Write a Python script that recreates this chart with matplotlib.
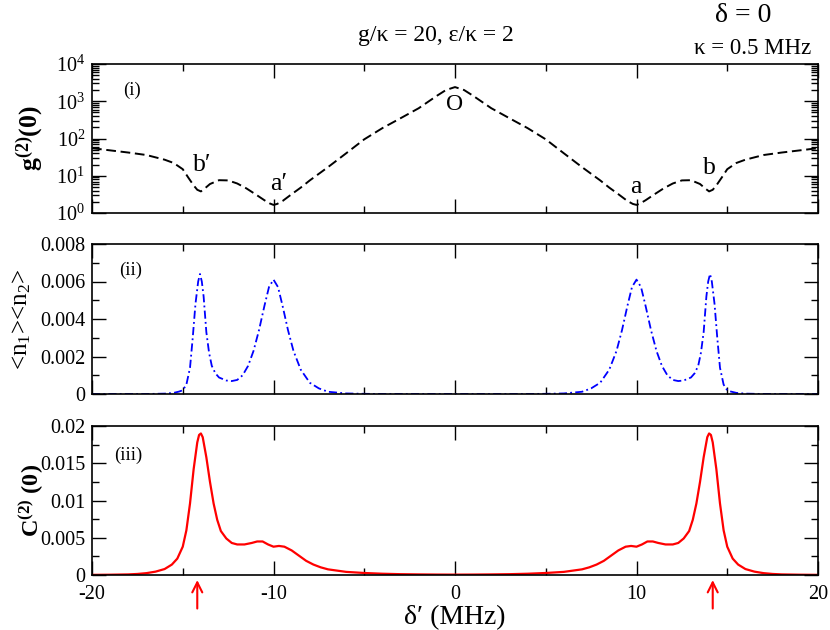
import numpy as np
import matplotlib
matplotlib.use("Agg")
import matplotlib.pyplot as plt
from matplotlib.ticker import MultipleLocator, LogLocator, NullFormatter, FixedLocator

plt.rcParams['font.family'] = ['Liberation Serif', 'DejaVu Serif']
plt.rcParams['mathtext.fontset'] = 'custom'
plt.rcParams['mathtext.rm'] = 'Liberation Serif'
plt.rcParams['mathtext.it'] = 'Liberation Serif:italic'
plt.rcParams['mathtext.bf'] = 'Liberation Serif:bold'

# ---------------- data ----------------
# panel (i): g2(0), log scale
g2_x = [-20, -19, -18, -17, -16, -15.5, -15, -14.7, -14.4, -14.2, -14.0, -13.8, -13.5, -13.0,
        -12.5, -12.0, -11.5, -11.0, -10.5, -10.2, -10.0, -9.8, -9.5, -9.0, -8.5, -8.0, -7.0,
        -6.0, -5.0, -4.0, -3.0, -2.0, -1.0, -0.5, 0,
        0.5, 1.0, 2.0, 3.0, 4.0, 5.0, 6.0, 7.0, 8.0, 8.5, 9.0, 9.5, 9.8, 10.0, 10.2, 10.5,
        11.0, 11.5, 12.0, 12.5, 13.0, 13.5, 13.8, 14.0, 14.2, 14.4, 14.7, 15, 15.5, 16, 17,
        18, 19, 20]
g2_y = [55, 48, 42, 36, 27, 22, 15, 9, 5.5, 4.2, 3.8, 4.5, 6.0, 7.6,
        7.5, 6.2, 4.6, 3.2, 2.2, 1.8, 1.65, 1.75, 2.1, 3.2, 4.8, 7.5, 17,
        40, 95, 190, 350, 650, 1400, 2000, 2400,
        2000, 1400, 650, 350, 190, 95, 40, 17, 7.5, 4.8, 3.2, 2.1, 1.75, 1.65, 1.8, 2.2,
        3.2, 4.6, 6.2, 7.5, 7.6, 6.0, 4.5, 3.8, 4.2, 5.5, 9, 15, 22, 27, 36,
        42, 48, 55]

# panel (ii): <n1><n2>
n_x = [-20, -17, -16, -15.5, -15.2, -15.0, -14.8, -14.6, -14.45, -14.3, -14.15, -14.05,
       -13.95, -13.85, -13.7, -13.55, -13.4, -13.2, -13.0, -12.6, -12.3, -12.0, -11.7,
       -11.4, -11.1, -10.8, -10.5, -10.25, -10.0, -9.75, -9.5, -9.2, -8.9, -8.5, -8.0,
       -7.5, -7.0, -6.0, -5.0, -4.0, 0,
       4.0, 5.0, 6.0, 7.0, 7.5, 8.0, 8.5, 8.9, 9.2, 9.5, 9.75, 10.0, 10.25, 10.5, 10.8,
       11.1, 11.4, 11.7, 12.0, 12.3, 12.6, 13.0, 13.2, 13.4, 13.55, 13.7, 13.85, 13.95,
       14.05, 14.15, 14.3, 14.45, 14.6, 14.8, 15.0, 15.2, 15.5, 16, 17, 20]
n_y = [0, 0, 0.00002, 0.00006, 0.00013, 0.0002, 0.0005, 0.0014, 0.0030, 0.0048, 0.0060, 0.0064,
       0.0060, 0.0052, 0.0033, 0.0022, 0.0015, 0.0011, 0.00088, 0.00072, 0.00069, 0.00075, 0.0010,
       0.0015, 0.0023, 0.0034, 0.0047, 0.0057, 0.0061, 0.0057, 0.0047, 0.0034, 0.0023, 0.0013, 0.0006,
       0.0003, 0.00012, 0.00003, 0.00001, 0, 0,
       0, 0.00001, 0.00003, 0.00012, 0.0003, 0.0006, 0.0013, 0.0023, 0.0034, 0.0047, 0.0057, 0.0061,
       0.0057, 0.0047, 0.0034, 0.0023, 0.0015, 0.0010, 0.00075, 0.00069, 0.00072, 0.00088, 0.0011,
       0.0015, 0.0022, 0.0033, 0.0052, 0.0060, 0.0064, 0.0060, 0.0048, 0.0030, 0.0014, 0.0005,
       0.0002, 0.00013, 0.00006, 0.00002, 0, 0]

# panel (iii): C2(0)
c_x = [-20, -19, -18, -17.5, -17, -16.5, -16, -15.6, -15.3, -15.0, -14.8, -14.6, -14.4, -14.2,
       -14.1, -14.0, -13.9, -13.7, -13.5, -13.3, -13.1, -12.9, -12.6, -12.3, -12.0, -11.6, -11.2,
       -10.9, -10.6, -10.3, -10.0, -9.7, -9.4, -9.0, -8.6, -8.2, -7.8, -7.4, -7.0, -6.0, -5.0,
       -4.0, -3.0, -2.0, -1.0, 0,
       1.0, 2.0, 3.0, 4.0, 5.0, 6.0, 7.0, 7.4, 7.8, 8.2, 8.6, 9.0, 9.4, 9.7, 10.0, 10.3, 10.6,
       10.9, 11.2, 11.6, 12.0, 12.3, 12.6, 12.9, 13.1, 13.3, 13.5, 13.7, 13.9, 14.0, 14.1, 14.2,
       14.4, 14.6, 14.8, 15.0, 15.3, 15.6, 16, 16.5, 17, 17.5, 18, 19, 20]
c_y = [0.00002, 0.00004, 0.00008, 0.00014, 0.00025, 0.00045, 0.0008, 0.0014, 0.0022, 0.0038,
       0.0060, 0.0096, 0.0142, 0.0178, 0.0188, 0.0190, 0.0185, 0.0158, 0.0125, 0.0096, 0.0074,
       0.0059, 0.0049, 0.0043, 0.0041, 0.0041, 0.0043, 0.0045, 0.0045, 0.0041, 0.0038, 0.0039,
       0.0038, 0.0033, 0.0026, 0.0019, 0.0014, 0.00103, 0.00076, 0.00042, 0.00027, 0.00017,
       0.00011, 0.00008, 0.00006, 0.00005,
       0.00006, 0.00008, 0.00011, 0.00017, 0.00027, 0.00042, 0.00076, 0.00103, 0.0014, 0.0019,
       0.0026, 0.0033, 0.0038, 0.0039, 0.0038, 0.0041, 0.0045, 0.0045, 0.0043, 0.0041, 0.0041,
       0.0043, 0.0049, 0.0059, 0.0074, 0.0096, 0.0125, 0.0158, 0.0185, 0.0190, 0.0188, 0.0178,
       0.0142, 0.0096, 0.0060, 0.0038, 0.0022, 0.0014, 0.0008, 0.00045, 0.00025, 0.00014,
       0.00008, 0.00004, 0.00002]

arrow_x = [-14.2, 14.2]
x_ticks = [-20, -10, 0, 10, 20]
x_tick_labels = ['-20', '-10', '0', '10', '20']

# ---------------- figure ----------------
fig = plt.figure(figsize=(8.3, 6.3), dpi=100)
L, W = 92 / 830, 726 / 830
ax1 = fig.add_axes([L, 1 - 213 / 630, W, 149 / 630])
ax2 = fig.add_axes([L, 1 - 394 / 630, W, 150 / 630])
ax3 = fig.add_axes([L, 1 - 575 / 630, W, 149 / 630])

for ax in (ax1, ax2, ax3):
    ax.set_xlim(-20, 20)
    ax.xaxis.set_major_locator(FixedLocator(x_ticks))
    ax.xaxis.set_minor_locator(MultipleLocator(5))
    ax.tick_params(which='both', direction='in', top=True, right=True, width=1.0,
                   labelsize=14.5, pad=5)
    ax.tick_params(which='major', length=10)
    ax.tick_params(which='minor', length=5)
    for s in ax.spines.values():
        s.set_linewidth(1.2)
    if ax is not ax3:
        ax.tick_params(labelbottom=False)
ax3.tick_params(axis='x', pad=7)

# panel (i)
ax1.plot(g2_x, g2_y, color='black', lw=1.4, ls=(0, (5.0, 2.4)))
ax1.set_yscale('log')
ax1.set_ylim(1, 1e4)
ax1.yaxis.set_major_locator(LogLocator(base=10, numticks=10))
ax1.yaxis.set_minor_locator(LogLocator(base=10, subs=np.arange(2, 10), numticks=10))
ax1.yaxis.set_minor_formatter(NullFormatter())
ax1.set_ylabel(r'$\mathbf{g^{(2)}(0)}$', fontsize=18.5)
ax1.yaxis.set_label_coords(-0.064, 0.5)
ax1.text(-17.8, 10 ** 3.30, '(i)', fontsize=13.5, ha='center', va='center')
ax1.text(0.0, 10 ** 2.91, 'O', fontsize=17, ha='center', va='center')
ax1.text(-13.95, 10 ** 1.29, 'b\u2032', fontsize=18.5, ha='center', va='center')
ax1.text(-9.7, 10 ** 0.77, 'a\u2032', fontsize=18.5, ha='center', va='center')
ax1.text(9.94, 10 ** 0.70, 'a', fontsize=18.5, ha='center', va='center')
ax1.text(14.0, 10 ** 1.21, 'b', fontsize=18.5, ha='center', va='center')

# panel (ii)
ax2.plot(n_x, n_y, color='#0000ff', lw=1.3, ls=(0, (4.5, 1.8, 1.0, 1.8)))
ax2.set_ylim(0, 0.008)
ax2.yaxis.set_major_locator(FixedLocator([0, 0.002, 0.004, 0.006, 0.008]))
ax2.yaxis.set_minor_locator(FixedLocator([0.001, 0.003, 0.005, 0.007]))
ax2.set_yticklabels(['0', '0.002', '0.004', '0.006', '0.008'])
ax2.set_ylabel(r'<n$_1$><n$_2$>', fontsize=18)
ax2.yaxis.set_label_coords(-0.081, 0.5)
ax2.text(-17.85, 0.0066, '(ii)', fontsize=13.5, ha='center', va='center')

# panel (iii)
ax3.plot(c_x, c_y, color='#ff0000', lw=1.6)
ax3.set_ylim(0, 0.02)
ax3.yaxis.set_major_locator(FixedLocator([0, 0.005, 0.01, 0.015, 0.02]))
ax3.yaxis.set_minor_locator(FixedLocator([0.0025, 0.0075, 0.0125, 0.0175]))
ax3.set_yticklabels(['0', '0.005', '0.01', '0.015', '0.02'])
ax3.set_xticklabels(x_tick_labels)
ax3.set_ylabel(r'$\mathbf{C^{(2)}\ (0)}$', fontsize=17.5)
ax3.yaxis.set_label_coords(-0.064, 0.5)
ax3.set_xlabel('\u03b4\u2032 (MHz)', fontsize=20, labelpad=1)
ax3.text(-18.0, 0.0161, '(iii)', fontsize=13.5, ha='center', va='center')

for xa in arrow_x:
    ax3.annotate('', xy=(xa, -0.034), xytext=(xa, -0.225),
                 xycoords=('data', 'axes fraction'), textcoords=('data', 'axes fraction'),
                 arrowprops=dict(arrowstyle='->', color='#ff0000', lw=1.5,
                                 mutation_scale=18, shrinkA=0, shrinkB=0),
                 annotation_clip=False)

# header texts
fig.text(436 / 830, 1 - 35 / 630, 'g/\u03ba = 20, \u03b5/\u03ba = 2', fontsize=17,
         ha='center', va='center')
fig.text(743 / 830, 1 - 16 / 630, '\u03b4 = 0', fontsize=20, ha='center', va='center')
fig.text(753 / 830, 1 - 48 / 630, '\u03ba = 0.5 MHz', fontsize=16.5, ha='center', va='center')

fig.savefig('out.png', dpi=100)
